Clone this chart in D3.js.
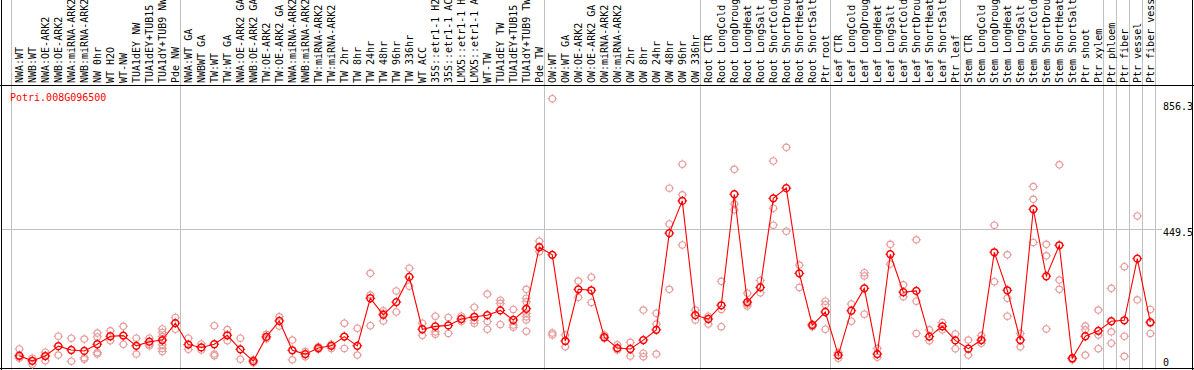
<!DOCTYPE html>
<html>
<head>
<meta charset="utf-8">
<script src="https://cdn.jsdelivr.net/npm/d3@7"></script>
<style>
  body { margin: 0; background: #fff; }
  svg text { font-family: "DejaVu Sans Mono", monospace; font-size: 10px; }
</style>
</head>
<body>
<div id="chart"></div>
<script>
var geneId = "Potri.008G096500";

var labels = [
  "NWA:WT", "NWB:WT", "NWA:OE-ARK2", "NWB:OE-ARK2", "NWA:miRNA-ARK2", "NWB:miRNA-ARK2",
  "NW 0hr", "WT H2O", "WT-NW", "TUA1dEY NW", "TUA1dEY+TUB15 NW", "TUA1dY+TUB9 NW", "Pde NW",
  "NWA:WT GA", "NWBWT GA", "TW:WT", "TW:WT GA", "NWA:OE-ARK2 GA", "NWB:OE-ARK2 GA",
  "TW:OE-ARK2", "TW:OE-ARK2 GA", "NWA:miRNA-ARK2", "NWB:miRNA-ARK2", "TW:miRNA-ARK2",
  "TW:miRNA-ARK2", "TW 2hr", "TW 8hr", "TW 24hr", "TW 48hr", "TW 96hr", "TW 336hr",
  "WT ACC", "35S::etr1-1 H2O", "35S::etr1-1 ACC", "LMX5::etr1-1 H2O", "LMX5::etr1-1 ACC",
  "WT-TW", "TUA1dEY TW", "TUA1dEY+TUB15 TW", "TUA1dY+TUB9 TW", "Pde TW",
  "OW:WT", "OW:WT GA", "OW:OE-ARK2", "OW:OE-ARK2 GA", "OW:miRNA-ARK2", "OW:miRNA-ARK2",
  "OW 2hr", "OW 8hr", "OW 24hr", "OW 48hr", "OW 96hr", "OW 336hr",
  "Root CTR", "Root LongCold", "Root LongDrought", "Root LongHeat", "Root LongSalt",
  "Root ShortCold", "Root ShortDrought", "Root ShortHeat", "Root ShortSalt", "Ptr root",
  "Leaf CTR", "Leaf LongCold", "Leaf LongDrought", "Leaf LongHeat", "Leaf LongSalt",
  "Leaf ShortCold", "Leaf ShortDrought", "Leaf ShortHeat", "Leaf ShortSalt", "Ptr leaf",
  "Stem CTR", "Stem LongCold", "Stem LongDrought", "Stem LongHeat", "Stem LongSalt",
  "Stem ShortCold", "Stem ShortDrought", "Stem ShortHeat", "Stem ShortSalt", "Ptr shoot",
  "Ptr xylem", "Ptr phloem", "Ptr fiber", "Ptr vessel", "Ptr fiber vessel"
];

// number of samples in each block between the grey separators
var groupSizes = [13, 28, 12, 10, 10, 11, 1, 1, 1, 1];

var means = [
  51, 35, 50, 81, 69, 66, 87, 112, 114, 82, 95, 100, 153,
  86, 77, 87, 115, 71, 34, 110, 160, 68, 56, 75, 82, 111, 82, 231, 179, 219, 298,
  134, 143, 146, 166, 173, 178, 193, 163, 198, 391,
  367, 97, 259, 256, 109, 75, 72, 100, 132, 435, 536, 178,
  166, 209, 557, 219, 265, 544, 576, 309, 147, 188,
  53, 192, 262, 56, 369, 250, 254, 111, 143, 99,
  73, 100, 375, 256, 100, 510, 300, 397, 43, 112, 129,
  159, 162, 355, 156
];

var reps = [
  [72, 43, 48], [43, 24], [62, 35], [112, 53], [106, 34], [103, 45, 40], [122, 110, 61, 56],
  [129, 98], [143, 87], [106, 56], [106, 87, 82], [135, 124, 111, 98, 85, 74, 64], [171, 134],
  [106, 71], [88, 69], [145, 56, 51], [133, 98], [106, 40], [38, 29], [118, 104], [173, 144],
  [100, 38], [64, 48], [79, 71], [87, 74], [153, 74], [137, 53], [309, 241, 145],
  [192, 184, 160], [254, 188], [325, 269], [153, 115], [175, 126, 118], [171, 121],
  [175, 158], [203, 161, 153], [244, 158, 134], [225, 215, 149], [196, 147, 140],
  [259, 231, 220, 184, 173, 163, 128], [410, 377],
  [856.3, 122, 116], [116, 79], [285, 234], [297, 218], [116, 106], [85, 69], [93, 50],
  [194, 59, 48], [184, 150, 56], [576, 464, 259], [651, 555, 398], [194, 163],
  [175, 150], [284, 196, 142], [635, 526, 508], [247, 213, 207], [287, 248],
  [661, 513, 460], [704, 441], [335, 265], [150, 142], [222, 211, 134],
  [61, 43], [213, 159], [311, 301, 181], [74, 46], [400, 338], [273, 236],
  [414, 222, 121], [132, 98], [155, 132], [119, 73],
  [100, 53], [114, 90], [460, 283], [367, 231, 175], [121, 79], [581, 541, 406],
  [400, 364, 135], [649, 288, 259], [43, 38], [144, 132, 53], [194, 116, 73],
  [262, 126, 90], [330, 112, 49], [489, 226], [196, 153, 121]
];

var maxValue = 856.3;
var midValue = 449.5;

var W = 1194, H = 370;

var svg = d3.select("#chart")
  .append("svg")
    .attr("width", W)
    .attr("height", H);

var x = d3.scalePoint()
  .domain(d3.range(labels.length))
  .range([19.3, 19.3 + 13 * (labels.length - 1)]);

var y = d3.scaleLinear()
  .domain([0, maxValue * 1.05])
  .range([372, 85]);

// grey separators between sample blocks
var seps = [-1];
var acc = -1;
groupSizes.forEach(function(n) { acc += n; seps.push(acc); });

svg.selectAll("line.sep")
  .data(seps)
  .enter()
  .append("line")
    .attr("class", "sep")
    .attr("x1", function(d) { return Math.round(x(0) + 13 * d + 4.7) + 0.5; })
    .attr("x2", function(d) { return Math.round(x(0) + 13 * d + 4.7) + 0.5; })
    .attr("y1", 0)
    .attr("y2", H)
    .attr("stroke", "#c0c0c0")
    .attr("stroke-width", 1);

// middle grid line
svg.append("line")
  .attr("x1", 1).attr("x2", 1162)
  .attr("y1", Math.round(y(midValue)) + 0.5).attr("y2", Math.round(y(midValue)) + 0.5)
  .attr("stroke", "#c0c0c0");

// frame
svg.append("line").attr("x1", 0).attr("x2", W).attr("y1", 85.5).attr("y2", 85.5).attr("stroke", "#000");
svg.append("line").attr("x1", 0).attr("x2", W).attr("y1", 368.5).attr("y2", 368.5).attr("stroke", "#000");
svg.append("line").attr("x1", 1.5).attr("x2", 1.5).attr("y1", 0).attr("y2", H).attr("stroke", "#000");
svg.append("line").attr("x1", 1192.5).attr("x2", 1192.5).attr("y1", 0).attr("y2", H).attr("stroke", "#000");

// sample labels
svg.selectAll("text.lab")
  .data(labels)
  .enter()
  .append("text")
    .attr("class", "lab")
    .attr("transform", function(d, i) { return "translate(" + (x(i) + 3.5) + ",83) rotate(-90)"; })
    .attr("fill", "#000")
    .text(function(d) { return d; });

// right axis values
svg.append("text").attr("x", 1163).attr("y", 110).text(maxValue.toFixed(1));
svg.append("text").attr("x", 1163).attr("y", 235.5).text(midValue.toFixed(1));
svg.append("text").attr("x", 1163).attr("y", 366).text("0");

svg.append("text")
  .attr("x", 10).attr("y", 100.5)
  .attr("fill", "#ff0000")
  .text(geneId);

// marker: ring with small ticks at the four points
function marker(g, r, color, sw) {
  g.append("circle")
    .attr("r", r)
    .attr("fill", "none")
    .attr("stroke", color)
    .attr("stroke-width", sw);
  g.append("path")
    .attr("d", "M0," + (-r - 1.5) + "V" + (-r) + "M0," + r + "V" + (r + 1.5) +
               "M" + (-r - 1.5) + ",0H" + (-r) + "M" + r + ",0H" + (r + 1.5))
    .attr("stroke", color)
    .attr("stroke-width", 1);
}

var repPts = [];
reps.forEach(function(r, i) { r.forEach(function(v) { repPts.push({ i: i, v: v }); }); });

svg.selectAll("g.rep")
  .data(repPts)
  .enter()
  .append("g")
    .attr("class", "rep")
    .attr("transform", function(d) { return "translate(" + x(d.i) + "," + y(d.v) + ")"; })
    .each(function() { marker(d3.select(this), 3.2, "#e89a9a", 1.1); });

var line = d3.line()
  .x(function(d, i) { return x(i); })
  .y(function(d) { return y(d); });

svg.append("path")
  .datum(means)
  .attr("d", line)
  .attr("fill", "none")
  .attr("stroke", "#ff0000")
  .attr("stroke-width", 1.1);

svg.selectAll("g.mean")
  .data(means)
  .enter()
  .append("g")
    .attr("class", "mean")
    .attr("transform", function(d, i) { return "translate(" + x(i) + "," + y(d) + ")"; })
    .each(function() { marker(d3.select(this), 3.4, "#ff0000", 1.5); });
</script>
</body>
</html>
